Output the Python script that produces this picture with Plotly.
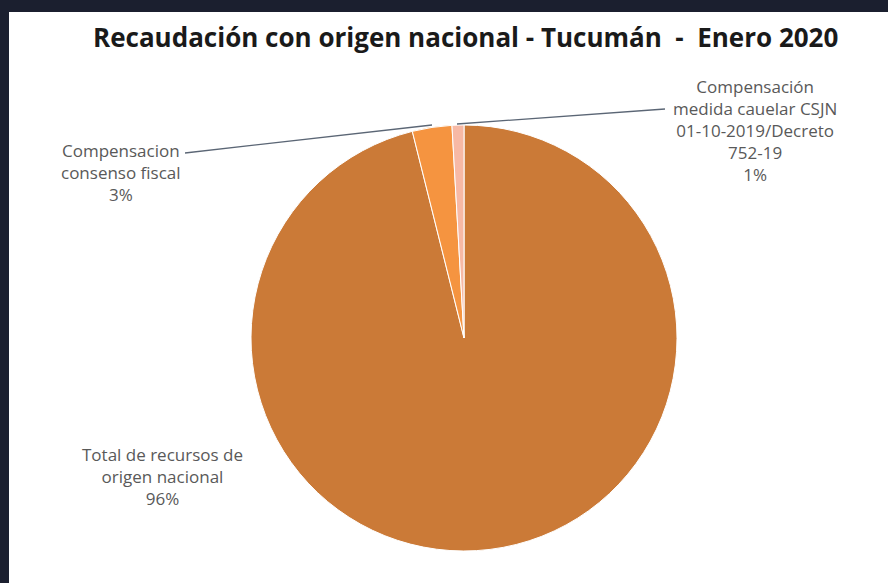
import plotly.graph_objects as go

# ---- data ----
categories = [
    "Total de recursos de origen nacional",
    "Compensacion consenso fiscal",
    "Compensación medida cauelar CSJN 01-10-2019/Decreto 752-19",
]
values = [96.1, 3.0, 0.9]
label_text = [
    ["Total de recursos de", "origen nacional"],
    ["Compensacion", "consenso fiscal"],
    ["Compensación", "medida cauelar CSJN", "01-10-2019/Decreto", "752-19"],
]
slice_colors = ["#CB7A37", "#F59440", "#F7B9A5"]
title_text = "Recaudación con origen nacional - Tucumán  -  Enero 2020"

W, H = 888, 583
px = lambda x: x / W
py = lambda y: 1 - y / H

# pie geometry (pixels)
cx, cy, r = 464, 338, 213

fig = go.Figure(go.Pie(
    labels=categories,
    values=values,
    sort=False,
    direction="clockwise",
    rotation=0,
    textinfo="none",
    hoverinfo="label+percent",
    marker=dict(colors=slice_colors, line=dict(color="white", width=1)),
    domain=dict(x=[px(cx - r), px(cx + r)], y=[py(cy + r), py(cy - r)]),
    showlegend=False,
))

total = sum(values)
pcts = [f"{round(v / total * 100)}%" for v in values]

# label positions (pixel centers)
label_pos = [(162, 476), (121, 172), (755, 130)]
annotations = []
for lines, pct, (lx, ly) in zip(label_text, pcts, label_pos):
    txt = "<br>".join(lines + [pct])
    annotations.append(dict(
        x=px(lx), y=py(ly), xref="paper", yref="paper",
        text=txt, showarrow=False, xanchor="center", yanchor="middle",
        align="center",
        font=dict(family="Open Sans", size=17, color="#595959"),
    ))

annotations.append(dict(
    x=px(465), y=py(37), xref="paper", yref="paper",
    text=f"<b>{title_text}</b>", showarrow=False,
    xanchor="center", yanchor="middle",
    font=dict(family="Open Sans", size=26, color="#1a1a1a"),
))

line_col = "#5b6675"
shapes = [
    # leader lines
    dict(type="line", xref="paper", yref="paper",
         x0=px(185), y0=py(153), x1=px(432), y1=py(125),
         line=dict(color=line_col, width=1.3)),
    dict(type="line", xref="paper", yref="paper",
         x0=px(457), y0=py(124), x1=px(665), y1=py(109),
         line=dict(color=line_col, width=1.3)),
    # dark frame
    dict(type="rect", xref="paper", yref="paper", x0=0, x1=1, y0=py(12), y1=1,
         fillcolor="#1b1f2f", line=dict(width=0), layer="above"),
    dict(type="rect", xref="paper", yref="paper", x0=0, x1=px(9), y0=0, y1=1,
         fillcolor="#1b1f2f", line=dict(width=0), layer="above"),
]

fig.update_layout(
    width=W, height=H,
    margin=dict(l=0, r=0, t=0, b=0),
    paper_bgcolor="white",
    plot_bgcolor="white",
    annotations=annotations,
    shapes=shapes,
)

fig.write_html(
    "out.html",
    config={"displayModeBar": False},
    post_script=(
        "document.body.style.margin='0';"
        "document.body.style.overflow='hidden';"
        "document.body.style.background='white';"
        "document.documentElement.style.background='white';"
    ),
)
